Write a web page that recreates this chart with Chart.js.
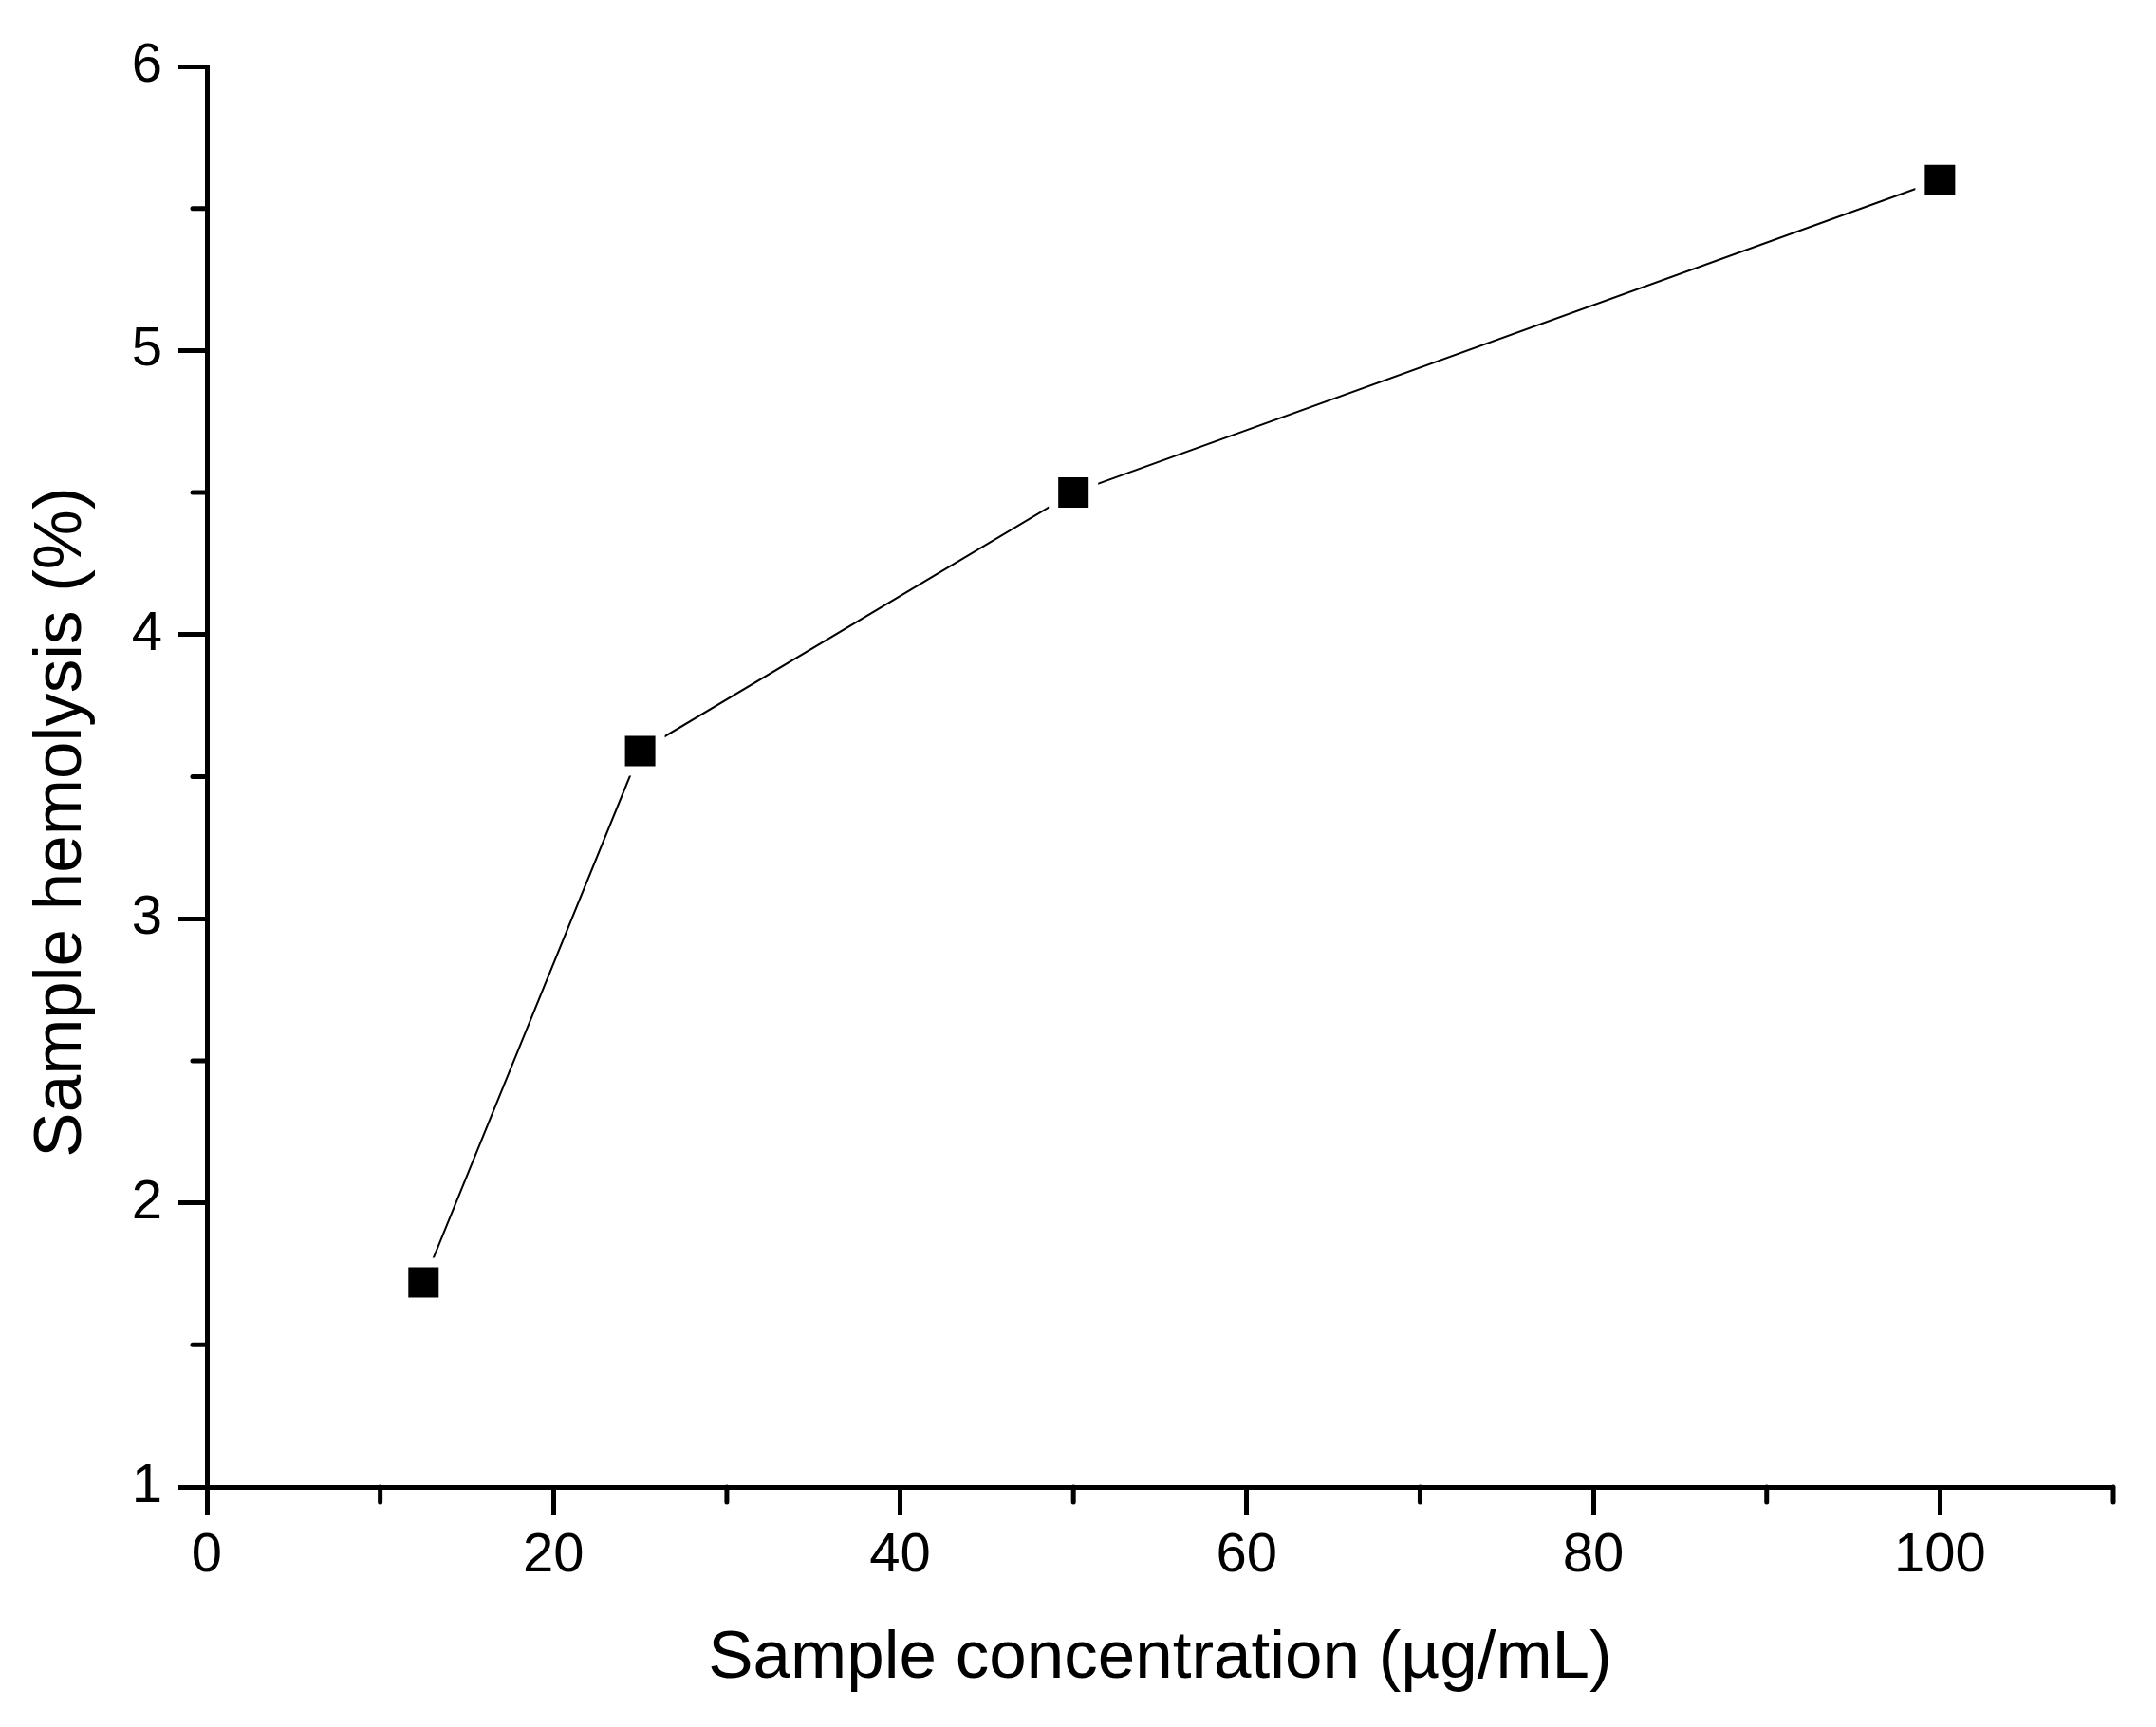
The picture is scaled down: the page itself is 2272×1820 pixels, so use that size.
<!DOCTYPE html>
<html>
<head>
<meta charset="utf-8">
<title>Sample hemolysis</title>
<script src="https://cdn.jsdelivr.net/npm/chart.js@4/dist/chart.umd.min.js"></script>
<style>
  html, body { margin: 0; padding: 0; background: #fff; }
  canvas { display: block; }
</style>
</head>
<body>
<canvas id="graph" width="2272" height="1820"></canvas>
<script>
// values
var concentration = [12.5, 25, 50, 100];
var hemolysis = [1.72, 3.59, 4.5, 5.6];

var xMajorTicks = [0, 20, 40, 60, 80, 100];
var xMinorTicks = [10, 30, 50, 70, 90, 110];
var yMajorTicks = [1, 2, 3, 4, 5, 6];
var yMinorTicks = [1.5, 2.5, 3.5, 4.5, 5.5];

var yTitle = 'Sample hemolysis (%)';
var xTitle = 'Sample concentration (\u00b5g/mL)';

var points = [];
for (var i = 0; i < concentration.length; i++) {
  points.push({ x: concentration[i], y: hemolysis[i] });
}

var tickFont = { family: 'Liberation Sans', size: 58 };
var titleFont = { family: 'Liberation Sans', size: 71 };

// Chart.js has no minor ticks, so draw the short ones here
// the y title sits a bit below the axis middle in the original, so it is drawn here too
var extras = {
  id: 'extras',
  afterDraw: function(chart) {
    var ctx = chart.ctx, area = chart.chartArea;
    var sx = chart.scales.x, sy = chart.scales.y;
    ctx.save();
    ctx.strokeStyle = '#000';
    ctx.lineWidth = 5;
    ctx.lineCap = 'round';
    xMinorTicks.forEach(function(v) {
      var px = sx.getPixelForValue(v);
      ctx.beginPath();
      ctx.moveTo(px, area.bottom);
      ctx.lineTo(px, area.bottom + 16);
      ctx.stroke();
    });
    yMinorTicks.forEach(function(v) {
      var py = sy.getPixelForValue(v);
      ctx.beginPath();
      ctx.moveTo(area.left, py);
      ctx.lineTo(area.left - 15, py);
      ctx.stroke();
    });

    ctx.fillStyle = '#000';
    ctx.font = titleFont.size + 'px "' + titleFont.family + '"';
    ctx.textAlign = 'center';
    ctx.textBaseline = 'middle';
    ctx.translate(65, (area.top + area.bottom) / 2 + 48);
    ctx.rotate(-Math.PI / 2);
    ctx.fillText(yTitle, 0, 0);
    ctx.restore();
  }
};

var ctx = document.getElementById('graph').getContext('2d');
var chart = new Chart(ctx, {
  type: 'line',
  data: {
    datasets: [{
      data: points,
      borderColor: '#000',
      borderWidth: 2,
      tension: 0,
      pointStyle: 'rect',
      pointRadius: 29.7,
      pointBackgroundColor: '#000',
      pointBorderColor: '#fff',
      pointBorderWidth: 10
    }]
  },
  options: {
    responsive: false,
    devicePixelRatio: 1,
    animation: false,
    layout: { padding: { left: 22, right: 45, top: 70, bottom: 29 } },
    plugins: { legend: { display: false }, tooltip: { enabled: false } },
    scales: {
      x: {
        type: 'linear',
        min: 0,
        max: 110,
        afterBuildTicks: function(scale) {
          scale.ticks = xMajorTicks.map(function(v) { return { value: v }; });
        },
        afterFit: function(scale) { scale.height = 224; },
        grid: { drawOnChartArea: false, tickLength: 30, tickWidth: 5, tickColor: '#000' },
        border: { display: true, color: '#000', width: 5 },
        ticks: { color: '#000', font: tickFont, padding: 8, maxRotation: 0 },
        title: {
          display: true,
          text: xTitle,
          color: '#000',
          font: titleFont,
          padding: 0
        }
      },
      y: {
        type: 'linear',
        min: 1,
        max: 6,
        afterBuildTicks: function(scale) {
          scale.ticks = yMajorTicks.map(function(v) { return { value: v }; });
        },
        afterFit: function(scale) { scale.width = 196; },
        grid: { drawOnChartArea: false, tickLength: 30, tickWidth: 5, tickColor: '#000' },
        border: { display: true, color: '#000', width: 5 },
        ticks: { color: '#000', font: tickFont, padding: 17 }
      }
    }
  },
  plugins: [extras]
});
</script>
</body>
</html>
